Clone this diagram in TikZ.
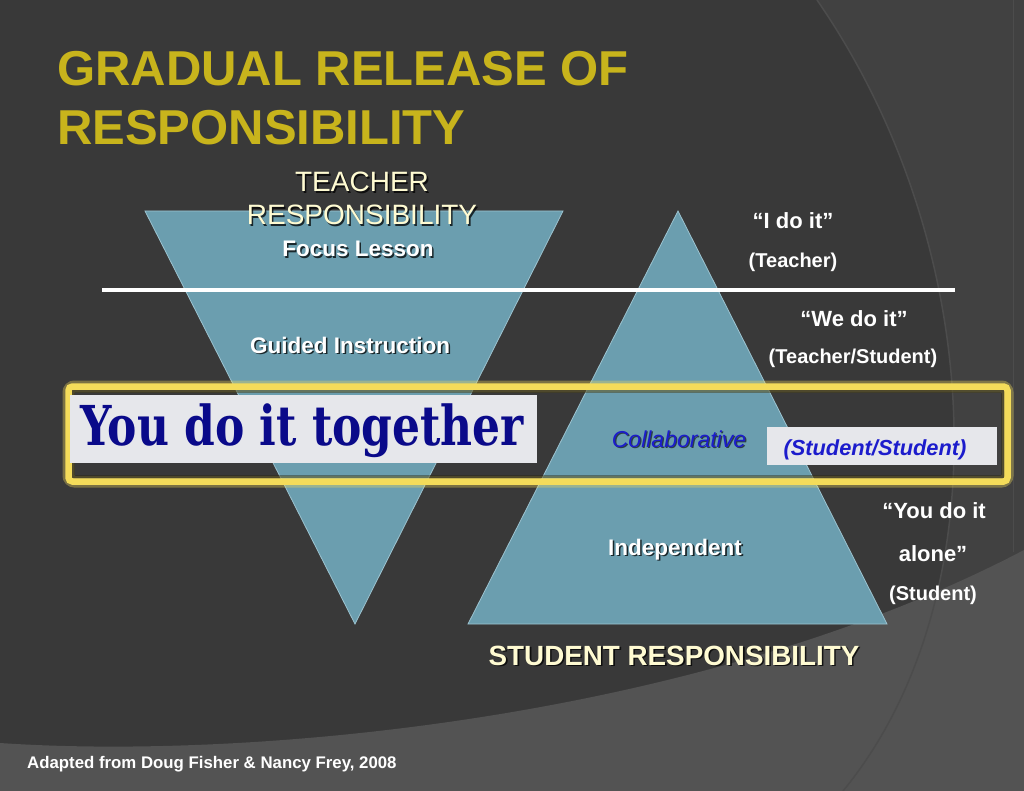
\documentclass[tikz,border=0pt]{standalone}
\usepackage{fontspec}
\setmainfont{Liberation Sans}
\newfontfamily\heavyserif{DejaVu Serif}
\usetikzlibrary{calc}
\definecolor{bgdark}{HTML}{393939}
\definecolor{bgright}{HTML}{414141}
\definecolor{bglight}{HTML}{535353}
\definecolor{arcline}{HTML}{4C4C4C}
\definecolor{trifill}{HTML}{6B9EAF}
\definecolor{triedge}{HTML}{9CC3D0}
\definecolor{titlegold}{HTML}{C8B41C}
\definecolor{cream}{HTML}{FFFBD2}
\definecolor{boxyellow}{HTML}{F4DC5A}
\definecolor{boxgray}{HTML}{E6E7EB}
\definecolor{navy}{HTML}{0A0A8A}
\definecolor{textblue}{HTML}{1C1CCC}
\newcommand\shtext[4]{%
  \node[#3, text=black, opacity=0.75, xshift=1.6pt, yshift=-1.6pt] (#2s) at #1 {#4};
  \node[#3] (#2) at #1 {#4};}
\begin{document}
\begin{tikzpicture}[x=1pt,y=-1pt,
  txt/.style={inner sep=0pt, anchor=base},
  title/.style={txt, anchor=base west, text=titlegold, font=\bfseries\fontsize{49}{59}\selectfont},
  teach/.style={txt, text=cream, font=\fontsize{28}{32}\selectfont},
  label/.style={txt, text=white, font=\bfseries\fontsize{22.5}{26}\selectfont},
  quote/.style={txt, text=white, font=\bfseries\fontsize{22}{26}\selectfont},
  paren/.style={txt, text=white, font=\bfseries\fontsize{20}{24}\selectfont},
  stud/.style={txt, text=cream, font=\bfseries\fontsize{27.8}{31}\selectfont},
  tri/.style={fill=trifill, draw=triedge, line width=0.8pt, line join=miter},
  graybox/.style={fill=boxgray, draw=none, inner sep=0pt, anchor=north west}]
\useasboundingbox (0,0) rectangle (1024,791);
% background
\fill[bgdark] (0,0) rectangle (1024,791);
\fill[bgright] (817,0) .. controls (990,250) and (1000,600) .. (843,791) -- (1024,791) -- (1024,0) -- cycle;
\fill[bglight] (0,743) .. controls (250,760) and (700,720) .. (1024,550) -- (1024,791) -- (0,791) -- cycle;
\draw[arcline, line width=1.5pt] (817,0) .. controls (990,250) and (1000,600) .. (843,791);
\draw[arcline, line width=1pt] (1013,0) -- (1013,552);
% triangles
\draw[tri] (145,211) -- (563,211) -- (355,624) -- cycle;
\draw[tri] (678,211) -- (887,624) -- (468,624) -- cycle;
% white line
\coordinate (la) at (102,290);
\coordinate (lb) at (955,290);
\draw[white, line width=4pt] (la) -- (lb);
% yellow box
\draw[boxyellow, opacity=0.35, line width=12pt, rounded corners=6pt] (68.5,386.5) rectangle (1007.5,481.5);
\draw[boxyellow, line width=6.5pt, rounded corners=4pt] (68.5,386.5) rectangle (1007.5,481.5);
\draw[black, opacity=0.35, line width=3pt] (73.5,391.5) rectangle (1002.5,476.5);
% gray boxes
\node[graybox, minimum width=467pt, minimum height=68pt] (togbox) at (70,395) {};
\node[graybox, minimum width=230pt, minimum height=38pt] (ssbox) at (767,427) {};
% title
\node[title] (t1) at (57,86) {GRADUAL RELEASE OF};
\node[title] (t2) at (57,145) {RESPONSIBILITY};
% teacher responsibility
\shtext{(362,192)}{tr1}{teach}{TEACHER}
\shtext{(362,225)}{tr2}{teach}{RESPONSIBILITY}
\shtext{(358,257)}{focus}{label}{Focus Lesson}
\shtext{(350,353)}{guided}{label}{Guided Instruction}
\shtext{(675,555)}{indep}{label}{Independent}
\shtext{(674,665)}{studr}{stud}{STUDENT RESPONSIBILITY}
% collaborative
\node[txt, text=black, opacity=0.6, xshift=1.2pt, yshift=-1.2pt, font=\itshape\fontsize{23}{26}\selectfont] (collabs) at (679,447) {Collaborative};
\node[txt, text=textblue, font=\itshape\fontsize{23}{26}\selectfont] (collab) at (679,447) {Collaborative};
\node[txt, text=textblue, font=\bfseries\itshape\fontsize{21.8}{25}\selectfont] (ss) at (875,455) {(Student/Student)};
% you do it together
\node[txt, text=navy, font=\heavyserif\bfseries\fontsize{55}{60}\selectfont] (tog) at (302,445) {\scalebox{0.8}[1]{You do it together}};
% right column
\node[quote] (q1) at (793,229) {“I do it”};
\node[paren] (p1) at (793,268) {(Teacher)};
\node[quote] (q2) at (854,326) {“We do it”};
\node[paren] (p2) at (853,363) {(Teacher/Student)};
\node[quote] (q3a) at (934,518) {“You do it};
\node[quote] (q3b) at (933,561) {alone”};
\node[paren] (p3) at (933,600) {(Student)};
% footer
\node[txt, anchor=base west, text=white, font=\bfseries\fontsize{16.8}{20}\selectfont] (foot) at (27,768) {Adapted from Doug Fisher \& Nancy Frey, 2008};
\end{tikzpicture}
\end{document}
